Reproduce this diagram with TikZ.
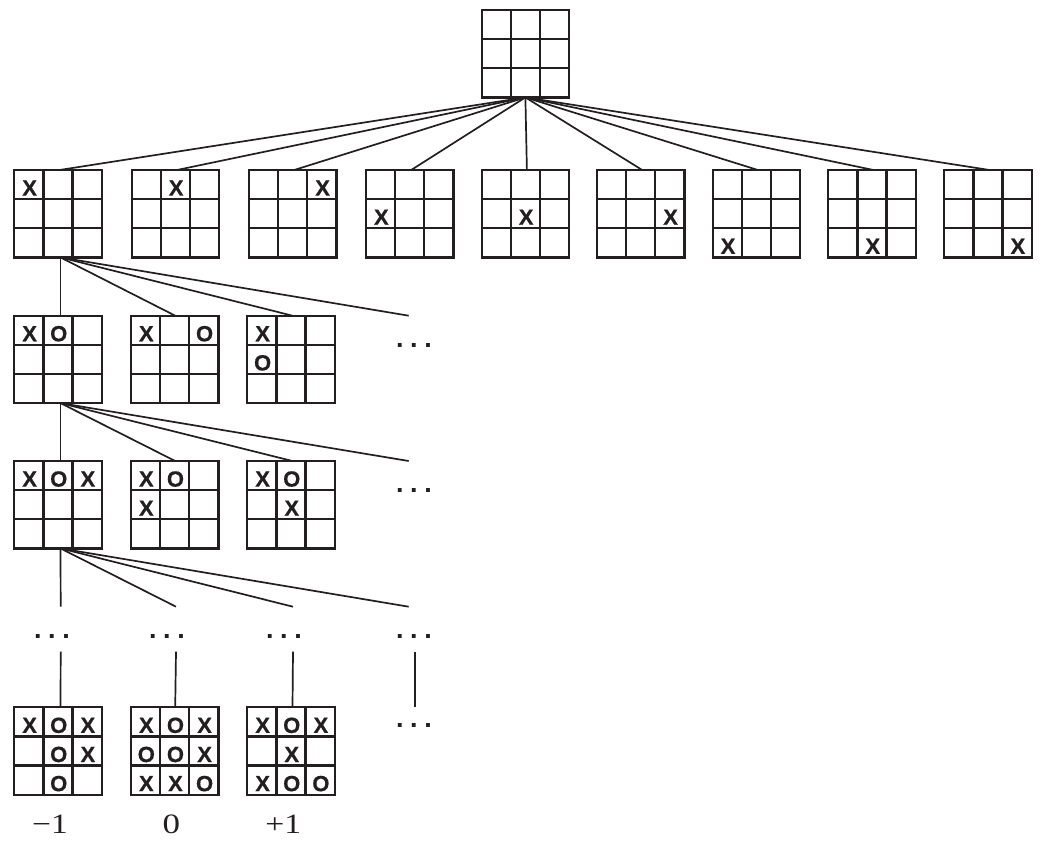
\documentclass[tikz,border=0pt]{standalone}
\usepackage{fontspec}
\setmainfont{Liberation Serif}
\newfontfamily\markfont{Liberation Sans Bold}[FakeBold=0.6]
\newfontfamily\dotfont{Liberation Sans Bold}
\usetikzlibrary{calc}
\definecolor{ink}{RGB}{35,31,32}
\tikzset{
  boardbox/.style={rectangle, draw=ink, line width=2.3pt, minimum size=87.4pt, inner sep=0pt, outer sep=0pt},
  gridline/.style={draw=ink, line width=2.3pt},
  xomark/.style={font=\markfont\fontsize{22pt}{26pt}\selectfont, text=ink, inner sep=0pt},
  connector/.style={draw=ink, line width=1.7pt},
  dotsnode/.style={font=\dotfont\fontsize{27pt}{30pt}\selectfont, text=ink, inner sep=0pt},
  valnode/.style={font=\fontsize{28pt}{32pt}\selectfont, text=ink, inner sep=0pt, anchor=base},
}
\newcommand\tttboard[3]{%
  \node[boardbox] (#1) at (#2+43.7,#3+43.7) {};
  \foreach \k in {1,2}{%
    \draw[gridline] ($(#1.north west)+(29.133*\k,0)$) -- ($(#1.south west)+(29.133*\k,0)$);
    \draw[gridline] ($(#1.north west)+(0,29.133*\k)$) -- ($(#1.north east)+(0,29.133*\k)$);
  }%
}
\newcommand\xomarks[2]{%
  \foreach \c/\r/\m [count=\n] in {#2}{%
    \node[xomark] (#1-\n) at ($(#1.north west)+(29.133*\c-13.8,29.133*\r-11.1)$) {\m};
  }%
}
\newcommand\dotstext{.\hspace{6.6pt}.\hspace{6.6pt}.}
\begin{document}
\begin{tikzpicture}[x=1pt,y=-1pt]
\useasboundingbox (0,0) rectangle (1052,841);
% root
\tttboard{root}{481.7}{10}
% level 1
\tttboard{r1a}{14.3}{170}  \xomarks{r1a}{1/1/X}
\tttboard{r1b}{131.7}{170} \xomarks{r1b}{2/1/X}
\tttboard{r1c}{249}{170}   \xomarks{r1c}{3/1/X}
\tttboard{r1d}{366}{170}   \xomarks{r1d}{1/2/X}
\tttboard{r1e}{481.7}{170} \xomarks{r1e}{2/2/X}
\tttboard{r1f}{597}{170}   \xomarks{r1f}{3/2/X}
\tttboard{r1g}{712.7}{170} \xomarks{r1g}{1/3/X}
\tttboard{r1h}{828.3}{170} \xomarks{r1h}{2/3/X}
\tttboard{r1i}{944.3}{170} \xomarks{r1i}{3/3/X}
\foreach \b in {r1a,r1b,r1c,r1d,r1e,r1f,r1g,r1h,r1i}
  \draw[connector] (root.south) -- ([xshift=1.5pt]\b.north);
% level 2
\tttboard{r2a}{14.3}{315.7}  \xomarks{r2a}{1/1/X,2/1/O}
\tttboard{r2b}{131}{315.7}   \xomarks{r2b}{1/1/X,3/1/O}
\tttboard{r2c}{247.3}{315.7} \xomarks{r2c}{1/1/X,1/2/O}
\coordinate (e2) at (408.7,315.7);
\node[dotsnode] (d2) at (414,345.3) {\dotstext};
\draw[connector] ([xshift=2.5pt]r1a.south) -- ([xshift=2.5pt]r2a.north);
\draw[connector] ([xshift=2.5pt]r1a.south) -- ([xshift=0.5pt]r2b.north);
\draw[connector] ([xshift=2.5pt]r1a.south) -- ([xshift=1.5pt]r2c.north);
\draw[connector] ([xshift=2.5pt]r1a.south) -- (e2);
% level 3
\tttboard{r3a}{14.3}{461}  \xomarks{r3a}{1/1/X,2/1/O,3/1/X}
\tttboard{r3b}{131}{461}   \xomarks{r3b}{1/1/X,2/1/O,1/2/X}
\tttboard{r3c}{247.3}{461} \xomarks{r3c}{1/1/X,2/1/O,2/2/X}
\coordinate (e3) at (408.7,461);
\node[dotsnode] (d3) at (414,490.7) {\dotstext};
\draw[connector] ([xshift=2.5pt]r2a.south) -- ([xshift=2.5pt]r3a.north);
\draw[connector] ([xshift=2.5pt]r2a.south) -- ([xshift=0.5pt]r3b.north);
\draw[connector] ([xshift=2.5pt]r2a.south) -- ([xshift=1.5pt]r3c.north);
\draw[connector] ([xshift=2.5pt]r2a.south) -- (e3);
% level 4 (elided)
\coordinate (c1) at (60.7,606.7);
\coordinate (c2) at (176,606.7);
\coordinate (c3) at (293,606.7);
\coordinate (c4) at (408.7,606.7);
\foreach \c in {c1,c2,c3,c4}
  \draw[connector] ([xshift=2.5pt]r3a.south) -- (\c);
\node[dotsnode] (d4a) at (52,636.7) {\dotstext};
\node[dotsnode] (d4b) at (167,636.7) {\dotstext};
\node[dotsnode] (d4c) at (284,636.7) {\dotstext};
\node[dotsnode] (d4d) at (414,636.7) {\dotstext};
% terminal boards
\tttboard{ta}{14.3}{707.3}  \xomarks{ta}{1/1/X,2/1/O,3/1/X,2/2/O,3/2/X,2/3/O}
\tttboard{tb}{131}{707.3}   \xomarks{tb}{1/1/X,2/1/O,3/1/X,1/2/O,2/2/O,3/2/X,1/3/X,2/3/X,3/3/O}
\tttboard{tc}{247.3}{707.3} \xomarks{tc}{1/1/X,2/1/O,3/1/X,2/2/X,1/3/X,2/3/O,3/3/O}
\coordinate (u1) at (60.7,651.7);
\coordinate (u2) at (176,651.7);
\coordinate (u3) at (293,651.7);
\coordinate (u4) at (415,651.7);
\coordinate (v4) at (415,707);
\draw[connector] (u1) -- ([xshift=2.5pt]ta.north);
\draw[connector] (u2) -- ([xshift=0.5pt]tb.north);
\draw[connector] (u3) -- ([xshift=1.5pt]tc.north);
\draw[connector] (u4) -- (v4);
\node[dotsnode] (d5) at (414,725) {\dotstext};
% values
\node[valnode] (va) at (50,833.3) {\scalebox{1.2}[1]{−1}};
\node[valnode] (vb) at (171.3,833.3) {\scalebox{1.25}[1]{0}};
\node[valnode] (vc) at (283.3,833.3) {\scalebox{1.2}[1]{+1}};
\end{tikzpicture}
\end{document}
